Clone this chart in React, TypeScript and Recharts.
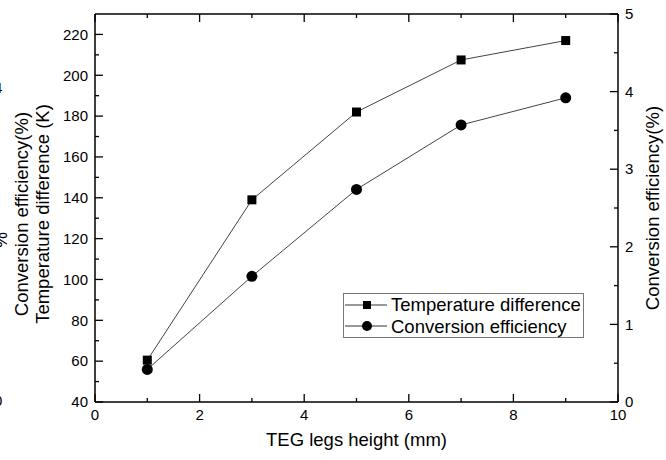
import { LineChart, Line, XAxis, YAxis, Legend } from "recharts";

const heights = [1, 3, 5, 7, 9];
const tempDiff = [60.5, 139, 182, 207.5, 217];
const efficiency = [0.42, 1.62, 2.74, 3.57, 3.92];

const xTicks = [0, 1, 2, 3, 4, 5, 6, 7, 8, 9, 10];
const tempTicks = [40, 50, 60, 70, 80, 90, 100, 110, 120, 130, 140, 150, 160, 170, 180, 190, 200, 210, 220];
const effTicks = [0, 0.5, 1, 1.5, 2, 2.5, 3, 3.5, 4, 4.5, 5];

const data = heights.map((h, i) => ({ h, temp: tempDiff[i], eff: efficiency[i] }));

const FONT = "'Liberation Sans', Arial, sans-serif";
const INK = "#000";
const MARGIN = 7;

const makeTick = (side: "left" | "right" | "bottom" | "top", isMajor: (v: number) => boolean) => (props: any) => {
  const { x, y, payload } = props;
  const v = payload.value;
  const major = isMajor(v);
  const len = major ? 8 : 4;
  if (side === "left") {
    const ax = x + MARGIN;
    return (
      <g>
        <line x1={ax} y1={y} x2={ax + len} y2={y} stroke={INK} strokeWidth={1.3} />
        {major && (
          <text x={x} y={y} dy="0.35em" textAnchor="end" fontSize={15} fontFamily={FONT} fill={INK}>{v}</text>
        )}
      </g>
    );
  }
  if (side === "right") {
    const ax = x - MARGIN;
    return (
      <g>
        <line x1={ax} y1={y} x2={ax - len} y2={y} stroke={INK} strokeWidth={1.3} />
        {major && (
          <text x={x} y={y} dy="0.35em" textAnchor="start" fontSize={15} fontFamily={FONT} fill={INK}>{v}</text>
        )}
      </g>
    );
  }
  if (side === "bottom") {
    const ay = y - MARGIN;
    return (
      <g>
        <line x1={x} y1={ay} x2={x} y2={ay - len} stroke={INK} strokeWidth={1.3} />
        {major && (
          <text x={x} y={y} dy="0.75em" textAnchor="middle" fontSize={15} fontFamily={FONT} fill={INK}>{v}</text>
        )}
      </g>
    );
  }
  const ay = y + MARGIN;
  return <line x1={x} y1={ay} x2={x} y2={ay + len} stroke={INK} strokeWidth={1.3} />;
};

const SquareDot = (props: any) => {
  const { cx, cy } = props;
  if (cx == null || cy == null) return null;
  return <rect x={cx - 4.5} y={cy - 4.5} width={9} height={9} fill={INK} />;
};

const CircleDot = (props: any) => {
  const { cx, cy } = props;
  if (cx == null || cy == null) return null;
  return <circle cx={cx} cy={cy} r={5.5} fill={INK} />;
};

const legendItems = [
  { name: "Temperature difference", shape: "square" },
  { name: "Conversion efficiency", shape: "circle" },
];

const LegendBox = () => (
  <div
    style={{
      border: "1px solid #777",
      background: "#fff",
      width: 239,
      padding: "0",
      fontFamily: FONT,
      fontSize: 18.5,
      color: INK,
      boxSizing: "content-box",
      whiteSpace: "nowrap",
    }}
  >
    {legendItems.map((it) => (
      <div key={it.name} style={{ display: "flex", alignItems: "center", height: 21.5 }}>
        <svg width={47} height={14} style={{ flex: "none" }}>
          <line x1={1} y1={7} x2={43} y2={7} stroke="#333" strokeWidth={1} />
          {it.shape === "square" ? (
            <rect x={19} y={3} width={8} height={8} fill={INK} />
          ) : (
            <circle cx={23} cy={7} r={5} fill={INK} />
          )}
        </svg>
        <span style={{ lineHeight: "21px" }}>{it.name}</span>
      </div>
    ))}
  </div>
);

const leftTitles = (props: any) => {
  const vb = props.viewBox || {};
  const cy = (vb.y ?? 14) + (vb.height ?? 388) / 2 + 6;
  return (
    <g fontFamily={FONT} fontSize={18.5} fill={INK}>
      <text transform={`translate(28, ${cy}) rotate(-90)`} textAnchor="middle">Conversion efficiency(%)</text>
      <text transform={`translate(49, ${cy}) rotate(-90)`} textAnchor="middle">Temperature difference (K)</text>
      {/* clipped fragments at the left edge */}
      <text x={-6} y={93} fontSize={15}>4</text>
      <text x={-6} y={406} fontSize={15}>0</text>
      <text transform="translate(7, 240) rotate(-90)" fontSize={18} textAnchor="middle">%</text>
    </g>
  );
};

const rightTitle = (props: any) => {
  const vb = props.viewBox || {};
  const cy = (vb.y ?? 14) + (vb.height ?? 388) / 2;
  return (
    <text
      transform={`translate(659, ${cy}) rotate(-90)`}
      textAnchor="middle"
      fontFamily={FONT}
      fontSize={18.5}
      fill={INK}
    >
      Conversion efficiency(%)
    </text>
  );
};

const bottomTitle = (props: any) => {
  const vb = props.viewBox || {};
  const cx = (vb.x ?? 95) + (vb.width ?? 522) / 2;
  return (
    <text x={cx} y={446} textAnchor="middle" fontFamily={FONT} fontSize={18.5} fill={INK}>
      TEG legs height (mm)
    </text>
  );
};

export default function App() {
  return (
    <div style={{ position: "absolute", left: 0, top: 0, width: 666, height: 460, background: "#fff" }}>
      <LineChart width={666} height={460} data={data} margin={{ top: 0, right: 0, bottom: 0, left: 0 }}>
        <XAxis
          xAxisId="bottom"
          dataKey="h"
          type="number"
          domain={[0, 10]}
          ticks={xTicks}
          interval={0}
          height={58}
          tickSize={0}
          tickMargin={MARGIN}
          tickLine={false}
          axisLine={{ stroke: INK, strokeWidth: 1.5 }}
          tick={makeTick("bottom", (v) => v % 2 === 0)}
          label={{ content: bottomTitle }}
        />
        <XAxis
          xAxisId="top"
          orientation="top"
          dataKey="h"
          type="number"
          domain={[0, 10]}
          ticks={xTicks}
          interval={0}
          height={14}
          tickSize={0}
          tickMargin={MARGIN}
          tickLine={false}
          axisLine={{ stroke: INK, strokeWidth: 1.5 }}
          tick={makeTick("top", (v) => v % 2 === 0)}
        />
        <YAxis
          yAxisId="temp"
          type="number"
          domain={[40, 230]}
          ticks={tempTicks}
          interval={0}
          width={95}
          tickSize={0}
          tickMargin={MARGIN}
          tickLine={false}
          axisLine={{ stroke: INK, strokeWidth: 1.5 }}
          tick={makeTick("left", (v) => v % 20 === 0)}
          label={{ content: leftTitles }}
        />
        <YAxis
          yAxisId="eff"
          orientation="right"
          type="number"
          domain={[0, 5]}
          ticks={effTicks}
          interval={0}
          width={48}
          tickSize={0}
          tickMargin={MARGIN}
          tickLine={false}
          axisLine={{ stroke: INK, strokeWidth: 1.5 }}
          tick={makeTick("right", (v) => Number.isInteger(v))}
          label={{ content: rightTitle }}
        />
        <Legend
          layout="vertical"
          verticalAlign="middle"
          align="center"
          content={<LegendBox />}
          wrapperStyle={{ left: 343, top: 293, width: 241 }}
        />
        <Line
          xAxisId="bottom"
          yAxisId="temp"
          dataKey="temp"
          name="Temperature difference"
          stroke="#444"
          strokeWidth={1}
          dot={<SquareDot />}
          isAnimationActive={false}
        />
        <Line
          xAxisId="bottom"
          yAxisId="eff"
          dataKey="eff"
          name="Conversion efficiency"
          stroke="#444"
          strokeWidth={1}
          dot={<CircleDot />}
          isAnimationActive={false}
        />
      </LineChart>
    </div>
  );
}
